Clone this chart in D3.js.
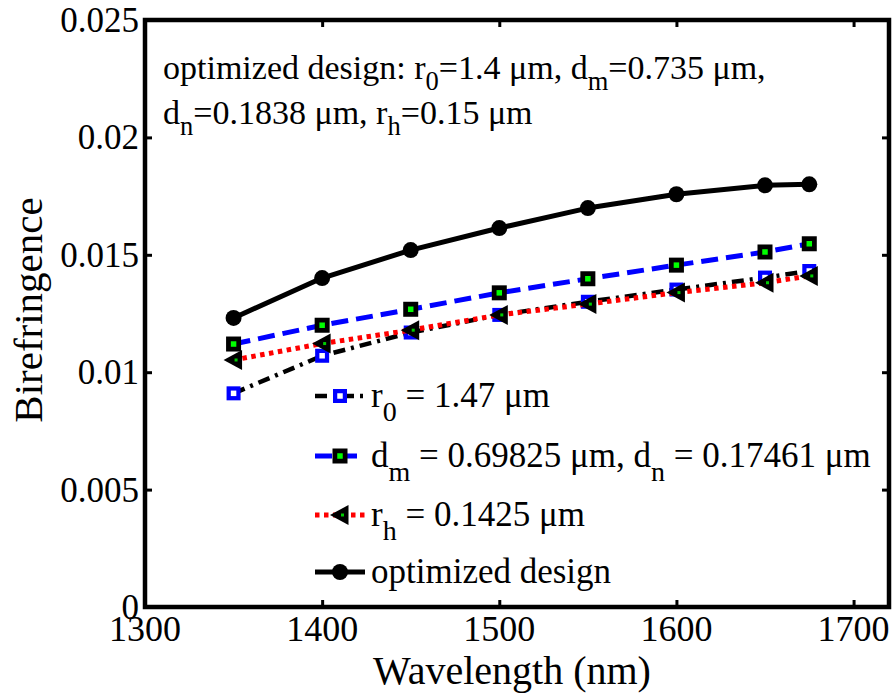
<!DOCTYPE html>
<html>
<head>
<meta charset="utf-8">
<script src="https://cdn.jsdelivr.net/npm/d3@7"></script>
<style>
  html, body { margin: 0; padding: 0; background: #fff; }
  svg { display: block; font-family: "Liberation Serif", "Times New Roman", serif; }
</style>
</head>
<body>
<svg id="chart" width="892" height="693"></svg>
<script>
// Wavelength sample points (nm)
const wavelengths = [1350, 1400, 1450, 1500, 1550, 1600, 1650, 1675];

// Birefringence per design variant
const r0Values  = [0.00910, 0.01070, 0.01169, 0.01244, 0.01300, 0.01352, 0.01403, 0.01431];
const dmValues  = [0.01120, 0.01200, 0.01268, 0.01338, 0.01398, 0.01456, 0.01512, 0.01547];
const rhValues  = [0.01052, 0.01122, 0.01179, 0.01244, 0.01290, 0.01339, 0.01381, 0.01410];
const optValues = [0.01231, 0.01401, 0.01520, 0.01614, 0.01699, 0.01758, 0.01796, 0.01800];

const xTicks = [1300, 1400, 1500, 1600, 1700];
const yTicks = [0, 0.005, 0.01, 0.015, 0.02, 0.025];
const yTickLabels = ["0", "0.005", "0.01", "0.015", "0.02", "0.025"];

const svg = d3.select("#chart");
const plotLeft = 145, plotRight = 889, plotTop = 20, plotBottom = 607;

const x = d3.scaleLinear().domain([1300, 1720]).range([plotLeft, plotRight]);
const y = d3.scaleLinear().domain([0, 0.025]).range([plotBottom, plotTop]);

// series definitions (legend order)
const series = [
  { key: "r0",  values: r0Values,  lineColor: "#000", dash: "12,6,3,6", width: 4.5,
    marker: "square", mFill: "#fff", mStroke: "#0000ff", mSize: 14 },
  { key: "dm",  values: dmValues,  lineColor: "#0000ff", dash: "17,8", width: 5,
    marker: "square", mFill: "#00ff00", mStroke: "#000", mSize: 15 },
  { key: "rh",  values: rhValues,  lineColor: "#ff0000", dash: "4.5,4.5", width: 5,
    marker: "triangle", mFill: "#00cc00", mStroke: "#000", mSize: 16 },
  { key: "opt", values: optValues, lineColor: "#000", dash: null, width: 5,
    marker: "circle", mFill: "#000", mStroke: "#000", mSize: 16 }
];

const plot = svg.append("g");

function drawMarker(g, s, cx, cy) {
  if (s.marker === "square") {
    const h = s.mSize / 2;
    g.append("rect").attr("x", cx - h).attr("y", cy - h)
      .attr("width", s.mSize).attr("height", s.mSize)
      .attr("fill", s.mStroke);
    const inner = 5.5;
    g.append("rect").attr("x", cx - inner / 2).attr("y", cy - inner / 2)
      .attr("width", inner).attr("height", inner).attr("fill", s.mFill);
  } else if (s.marker === "triangle") {
    const r = s.mSize / 2 + 2;
    g.append("path")
      .attr("d", `M${cx - r},${cy} L${cx + r * 0.85},${cy - r} L${cx + r * 0.85},${cy + r} Z`)
      .attr("fill", "#000");
    g.append("rect").attr("x", cx + 1).attr("y", cy - 1.5).attr("width", 3).attr("height", 3)
      .attr("fill", s.mFill);
  } else {
    g.append("circle").attr("cx", cx).attr("cy", cy).attr("r", s.mSize / 2).attr("fill", s.mFill);
  }
}

const line = d3.line().x((d, i) => x(wavelengths[i])).y(d => y(d));

// draw series back to front
const drawOrder = ["opt", "dm", "r0", "rh"];
drawOrder.forEach(k => {
  const s = series.find(e => e.key === k);
  const g = plot.append("g");
  g.append("path").datum(s.values).attr("d", line)
    .attr("fill", "none").attr("stroke", s.lineColor).attr("stroke-width", s.width)
    .attr("stroke-dasharray", s.dash).attr("stroke-linejoin", "round");
  s.values.forEach((v, i) => drawMarker(g, s, x(wavelengths[i]), y(v)));
});

// axes box with inward ticks
const axG = svg.append("g");
const xAxisB = d3.axisBottom(x).tickValues(xTicks).tickSizeInner(-7).tickSizeOuter(0).tickFormat("");
const xAxisT = d3.axisTop(x).tickValues(xTicks).tickSizeInner(-7).tickSizeOuter(0).tickFormat("");
const yAxisL = d3.axisLeft(y).tickValues(yTicks).tickSizeInner(-7).tickSizeOuter(0).tickFormat("");
const yAxisR = d3.axisRight(y).tickValues(yTicks).tickSizeInner(-7).tickSizeOuter(0).tickFormat("");
[[xAxisB, `translate(0,${plotBottom})`], [xAxisT, `translate(0,${plotTop})`],
 [yAxisL, `translate(${plotLeft},0)`], [yAxisR, `translate(${plotRight},0)`]].forEach(([a, t]) => {
  const g = axG.append("g").attr("transform", t).call(a);
  g.select(".domain").remove();
  g.selectAll(".tick line").attr("stroke", "#000").attr("stroke-width", 3);
});
axG.append("rect").attr("x", plotLeft).attr("y", plotTop)
  .attr("width", plotRight - plotLeft).attr("height", plotBottom - plotTop)
  .attr("fill", "none").attr("stroke", "#000").attr("stroke-width", 4.5);

// tick labels
axG.selectAll(".xl").data(xTicks).enter().append("text")
  .attr("x", d => x(d)).attr("y", 641).attr("text-anchor", "middle")
  .attr("font-size", 36).text(d => d);
axG.selectAll(".yl").data(yTicks).enter().append("text")
  .attr("x", 139).attr("y", d => y(d) + 12).attr("text-anchor", "end")
  .attr("font-size", 35).text((d, i) => yTickLabels[i]);

// axis titles
svg.append("text").attr("x", 512).attr("y", 684).attr("text-anchor", "middle")
  .attr("font-size", 40).text("Wavelength (nm)");
svg.append("text").attr("transform", "translate(42,310) rotate(-90)")
  .attr("text-anchor", "middle").attr("font-size", 41).text("Birefringence");

// rich text helper: parts are [text, isSubscript]
function richText(g, xPos, yPos, size, parts, subScale, subShift) {
  const t = g.append("text").attr("x", xPos).attr("y", yPos).attr("font-size", size);
  const shift = size * subShift;
  let lowered = false;
  parts.forEach(p => {
    const ts = t.append("tspan").text(p[0]);
    if (p[1] && !lowered) { ts.attr("dy", shift).attr("font-size", size * subScale); lowered = true; }
    else if (!p[1] && lowered) { ts.attr("dy", -shift); lowered = false; }
    else if (p[1]) ts.attr("font-size", size * subScale);
  });
  return t;
}

// annotation
const ann = svg.append("g");
richText(ann, 163, 79, 34, [["optimized design: r"], ["0", true], ["=1.4 \u03bcm, d"], ["m", true], ["=0.735 \u03bcm,"]], 0.78, 0.32);
richText(ann, 163, 124, 34, [["d"], ["n", true], ["=0.1838 \u03bcm, r"], ["h", true], ["=0.15 \u03bcm"]], 0.78, 0.32);

// legend
const legendLabels = [
  [["r"], ["0", true], [" = 1.47 \u03bcm"]],
  [["d"], ["m", true], [" = 0.69825 \u03bcm, d"], ["n", true], [" = 0.17461 \u03bcm"]],
  [["r"], ["h", true], [" = 0.1425 \u03bcm"]],
  [["optimized design"]]
];
const legendY = [396, 456, 515, 572];
const leg = svg.append("g");
series.forEach((s, i) => {
  const cy = legendY[i];
  leg.append("line").attr("x1", 315).attr("x2", 365).attr("y1", cy).attr("y2", cy)
    .attr("stroke", s.lineColor).attr("stroke-width", s.width)
    .attr("stroke-dasharray", s.dash);
  drawMarker(leg, s, 340, cy);
  richText(leg, 371, cy + 11, 35, legendLabels[i], 0.8, 0.4);
});
</script>
</body>
</html>
